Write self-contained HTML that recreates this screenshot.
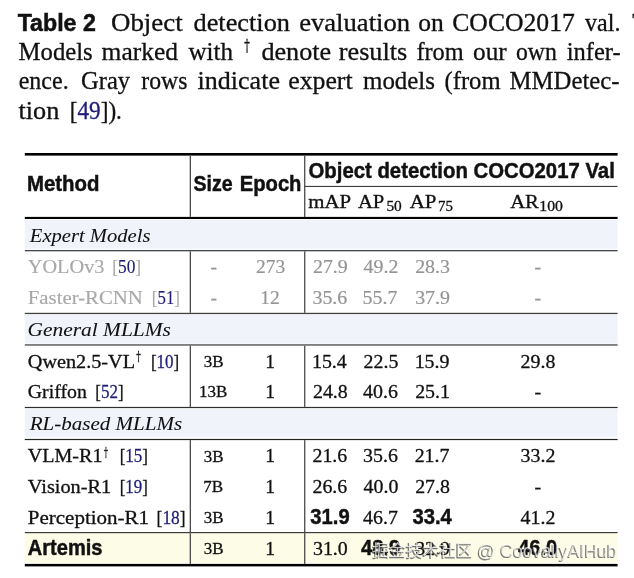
<!DOCTYPE html>
<html><head><meta charset="utf-8"><style>
html,body{margin:0;padding:0;background:#fff;width:634px;height:578px;overflow:hidden}
svg{display:block}
text{font-kerning:normal}
</style></head><body>
<svg width="634" height="578" viewBox="0 0 634 578">
<rect x="24.80" y="219.60" width="592.80" height="29.30" fill="#f1f3fb"/>
<rect x="24.80" y="314.90" width="592.80" height="28.60" fill="#f1f3fb"/>
<rect x="24.80" y="408.90" width="592.80" height="28.00" fill="#f1f3fb"/>
<rect x="24.80" y="533.20" width="592.80" height="29.70" fill="#fdfce6"/>
<rect x="24.80" y="153.00" width="592.80" height="2.60" fill="#000"/>
<rect x="24.80" y="216.90" width="592.80" height="2.10" fill="#000"/>
<rect x="24.80" y="250.00" width="592.80" height="1.30" fill="#40444c"/>
<rect x="24.80" y="312.80" width="592.80" height="1.30" fill="#404040"/>
<rect x="24.80" y="344.20" width="592.80" height="1.50" fill="#5c5f62"/>
<rect x="24.80" y="406.90" width="592.80" height="1.20" fill="#2e2e2e"/>
<rect x="24.80" y="438.90" width="592.80" height="1.20" fill="#222"/>
<rect x="24.80" y="532.00" width="592.80" height="1.20" fill="#3e3e38"/>
<rect x="24.80" y="563.90" width="592.80" height="2.50" fill="#000"/>
<rect x="304.70" y="185.90" width="312.90" height="1.10" fill="#3a3a3a"/>
<rect x="189.70" y="155.60" width="1.25" height="61.30" fill="#444"/>
<rect x="189.70" y="251.30" width="1.25" height="61.50" fill="#444"/>
<rect x="189.70" y="345.70" width="1.25" height="61.20" fill="#444"/>
<rect x="189.70" y="440.10" width="1.25" height="91.90" fill="#444"/>
<rect x="189.70" y="533.20" width="1.25" height="30.70" fill="#444"/>
<rect x="304.10" y="155.60" width="1.25" height="61.30" fill="#444"/>
<rect x="304.10" y="251.30" width="1.25" height="61.50" fill="#444"/>
<rect x="304.10" y="345.70" width="1.25" height="61.20" fill="#444"/>
<rect x="304.10" y="440.10" width="1.25" height="91.90" fill="#444"/>
<rect x="304.10" y="533.20" width="1.25" height="30.70" fill="#444"/>
<text x="17.70" y="30.70" textLength="78.10" lengthAdjust="spacingAndGlyphs" style='font-family:"Liberation Sans", sans-serif;font-size:23.0px;font-weight:bold;stroke:#111;stroke-width:0.5px' fill="#111">Table 2</text>
<text x="110.99" y="30.90" textLength="71.73" lengthAdjust="spacingAndGlyphs" style='font-family:"Liberation Serif", serif;font-size:24.3px;stroke:#111;stroke-width:0.3px' fill="#111">Object</text>
<text x="193.50" y="30.90" textLength="96.46" lengthAdjust="spacingAndGlyphs" style='font-family:"Liberation Serif", serif;font-size:24.3px;stroke:#111;stroke-width:0.3px' fill="#111">detection</text>
<text x="299.20" y="30.90" textLength="110.86" lengthAdjust="spacingAndGlyphs" style='font-family:"Liberation Serif", serif;font-size:24.3px;stroke:#111;stroke-width:0.3px' fill="#111">evaluation</text>
<text x="418.20" y="30.90" textLength="25.56" lengthAdjust="spacingAndGlyphs" style='font-family:"Liberation Serif", serif;font-size:24.3px;stroke:#111;stroke-width:0.3px' fill="#111">on</text>
<text x="452.24" y="30.90" textLength="122.61" lengthAdjust="spacingAndGlyphs" style='font-family:"Liberation Serif", serif;font-size:24.3px;stroke:#111;stroke-width:0.3px' fill="#111">COCO2017</text>
<text x="585.10" y="30.90" textLength="35.36" lengthAdjust="spacingAndGlyphs" style='font-family:"Liberation Serif", serif;font-size:24.3px;stroke:#111;stroke-width:0.3px' fill="#111">val.</text>
<text x="632.30" y="30.90" textLength="15.58" lengthAdjust="spacingAndGlyphs" style='font-family:"Liberation Serif", serif;font-size:24.3px;stroke:#111;stroke-width:0.3px' fill="#111">T</text>
<text x="18.60" y="59.90" textLength="74.16" lengthAdjust="spacingAndGlyphs" style='font-family:"Liberation Serif", serif;font-size:24.3px;stroke:#111;stroke-width:0.3px' fill="#111">Models</text>
<text x="101.60" y="59.90" textLength="76.36" lengthAdjust="spacingAndGlyphs" style='font-family:"Liberation Serif", serif;font-size:24.3px;stroke:#111;stroke-width:0.3px' fill="#111">marked</text>
<text x="188.40" y="59.90" textLength="44.55" lengthAdjust="spacingAndGlyphs" style='font-family:"Liberation Serif", serif;font-size:24.3px;stroke:#111;stroke-width:0.3px' fill="#111">with</text>
<text x="244.20" y="50.70" textLength="5.57" lengthAdjust="spacingAndGlyphs" style='font-family:"DejaVu Serif", serif;font-size:16.5px;stroke:#111;stroke-width:0.3px' fill="#111">†</text>
<text x="261.40" y="59.90" textLength="69.74" lengthAdjust="spacingAndGlyphs" style='font-family:"Liberation Serif", serif;font-size:24.3px;stroke:#111;stroke-width:0.3px' fill="#111">denote</text>
<text x="338.80" y="59.90" textLength="68.39" lengthAdjust="spacingAndGlyphs" style='font-family:"Liberation Serif", serif;font-size:24.3px;stroke:#111;stroke-width:0.3px' fill="#111">results</text>
<text x="416.40" y="59.90" style='font-family:"Liberation Serif", serif;font-size:24.3px;stroke:#111;stroke-width:0.3px' fill="#111">from</text>
<text x="473.00" y="59.90" textLength="33.69" lengthAdjust="spacingAndGlyphs" style='font-family:"Liberation Serif", serif;font-size:24.3px;stroke:#111;stroke-width:0.3px' fill="#111">our</text>
<text x="516.00" y="59.90" textLength="40.84" lengthAdjust="spacingAndGlyphs" style='font-family:"Liberation Serif", serif;font-size:24.3px;stroke:#111;stroke-width:0.3px' fill="#111">own</text>
<text x="566.70" y="59.90" textLength="53.99" lengthAdjust="spacingAndGlyphs" style='font-family:"Liberation Serif", serif;font-size:24.3px;stroke:#111;stroke-width:0.3px' fill="#111">infer-</text>
<text x="18.70" y="88.60" textLength="49.96" lengthAdjust="spacingAndGlyphs" style='font-family:"Liberation Serif", serif;font-size:24.3px;stroke:#111;stroke-width:0.3px' fill="#111">ence.</text>
<text x="81.09" y="88.60" textLength="49.05" lengthAdjust="spacingAndGlyphs" style='font-family:"Liberation Serif", serif;font-size:24.3px;stroke:#111;stroke-width:0.3px' fill="#111">Gray</text>
<text x="141.30" y="88.60" textLength="46.14" lengthAdjust="spacingAndGlyphs" style='font-family:"Liberation Serif", serif;font-size:24.3px;stroke:#111;stroke-width:0.3px' fill="#111">rows</text>
<text x="197.60" y="88.60" textLength="82.34" lengthAdjust="spacingAndGlyphs" style='font-family:"Liberation Serif", serif;font-size:24.3px;stroke:#111;stroke-width:0.3px' fill="#111">indicate</text>
<text x="288.20" y="88.60" textLength="64.44" lengthAdjust="spacingAndGlyphs" style='font-family:"Liberation Serif", serif;font-size:24.3px;stroke:#111;stroke-width:0.3px' fill="#111">expert</text>
<text x="363.00" y="88.60" textLength="71.97" lengthAdjust="spacingAndGlyphs" style='font-family:"Liberation Serif", serif;font-size:24.3px;stroke:#111;stroke-width:0.3px' fill="#111">models</text>
<text x="444.49" y="88.60" textLength="56.11" lengthAdjust="spacingAndGlyphs" style='font-family:"Liberation Serif", serif;font-size:24.3px;stroke:#111;stroke-width:0.3px' fill="#111">(from</text>
<text x="509.60" y="88.60" textLength="109.99" lengthAdjust="spacingAndGlyphs" style='font-family:"Liberation Serif", serif;font-size:24.3px;stroke:#111;stroke-width:0.3px' fill="#111">MMDetec-</text>
<text x="18.50" y="118.80" textLength="40.86" lengthAdjust="spacingAndGlyphs" style='font-family:"Liberation Serif", serif;font-size:24.3px;stroke:#111;stroke-width:0.3px' fill="#111">tion</text>
<text x="69.85" y="118.80" textLength="52.08" lengthAdjust="spacingAndGlyphs" style='font-family:"Liberation Serif", serif;font-size:24.3px;stroke:#111;stroke-width:0.3px' fill="#111">[<tspan fill="#1e1e78" stroke="#1e1e78">49</tspan>]).</text>
<text x="26.95" y="190.80" textLength="72.52" lengthAdjust="spacingAndGlyphs" style='font-family:"Liberation Sans", sans-serif;font-size:21.5px;font-weight:bold;stroke:#111;stroke-width:0.45px' fill="#111">Method</text>
<text x="193.40" y="190.70" textLength="39.16" lengthAdjust="spacingAndGlyphs" style='font-family:"Liberation Sans", sans-serif;font-size:21.5px;font-weight:bold;stroke:#111;stroke-width:0.45px' fill="#111">Size</text>
<text x="239.76" y="190.70" textLength="61.70" lengthAdjust="spacingAndGlyphs" style='font-family:"Liberation Sans", sans-serif;font-size:21.5px;font-weight:bold;stroke:#111;stroke-width:0.45px' fill="#111">Epoch</text>
<text x="308.50" y="178.00" textLength="306.32" lengthAdjust="spacingAndGlyphs" style='font-family:"Liberation Sans", sans-serif;font-size:21.5px;font-weight:bold;stroke:#111;stroke-width:0.45px' fill="#111">Object detection COCO2017 Val</text>
<text x="308.30" y="208.20" textLength="42.83" lengthAdjust="spacingAndGlyphs" style='font-family:"Liberation Serif", serif;font-size:19.5px;stroke:#111;stroke-width:0.3px' fill="#111">mAP</text>
<text x="358.00" y="208.20" textLength="26.34" lengthAdjust="spacingAndGlyphs" style='font-family:"Liberation Serif", serif;font-size:19.5px;stroke:#111;stroke-width:0.3px' fill="#111">AP</text>
<text x="386.40" y="211.20" textLength="15.37" lengthAdjust="spacingAndGlyphs" style='font-family:"Liberation Serif", serif;font-size:13.6px;stroke:#111;stroke-width:0.3px' fill="#111">50</text>
<text x="409.70" y="208.20" textLength="26.73" lengthAdjust="spacingAndGlyphs" style='font-family:"Liberation Serif", serif;font-size:19.5px;stroke:#111;stroke-width:0.3px' fill="#111">AP</text>
<text x="438.10" y="211.10" textLength="14.88" lengthAdjust="spacingAndGlyphs" style='font-family:"Liberation Serif", serif;font-size:13.6px;stroke:#111;stroke-width:0.3px' fill="#111">75</text>
<text x="510.20" y="208.20" textLength="28.71" lengthAdjust="spacingAndGlyphs" style='font-family:"Liberation Serif", serif;font-size:19.5px;stroke:#111;stroke-width:0.3px' fill="#111">AR</text>
<text x="539.34" y="211.20" textLength="23.62" lengthAdjust="spacingAndGlyphs" style='font-family:"Liberation Serif", serif;font-size:13.6px;stroke:#111;stroke-width:0.3px' fill="#111">100</text>
<text x="29.88" y="241.90" textLength="120.54" lengthAdjust="spacingAndGlyphs" style='font-family:"Liberation Serif", serif;font-size:19.0px;font-style:italic;stroke:#111;stroke-width:0.05px' fill="#111">Expert Models</text>
<text x="27.47" y="335.70" textLength="143.47" lengthAdjust="spacingAndGlyphs" style='font-family:"Liberation Serif", serif;font-size:19.0px;font-style:italic;stroke:#111;stroke-width:0.05px' fill="#111">General MLLMs</text>
<text x="29.71" y="429.70" textLength="152.53" lengthAdjust="spacingAndGlyphs" style='font-family:"Liberation Serif", serif;font-size:19.0px;font-style:italic;stroke:#111;stroke-width:0.05px' fill="#111">RL-based MLLMs</text>
<text x="27.80" y="273.00" textLength="76.68" lengthAdjust="spacingAndGlyphs" style='font-family:"Liberation Serif", serif;font-size:19.5px;stroke:#a8a8a8;stroke-width:0.15px' fill="#a8a8a8">YOLOv3</text>
<text x="210.50" y="273.00" style='font-family:"Liberation Serif", serif;font-size:19.5px;stroke:#959595;stroke-width:0.2px' fill="#959595">-</text>
<text x="255.95" y="273.00" style='font-family:"Liberation Serif", serif;font-size:19.5px;stroke:#959595;stroke-width:0.2px' fill="#959595">273</text>
<text x="312.98" y="273.00" textLength="34.81" lengthAdjust="spacingAndGlyphs" style='font-family:"Liberation Serif", serif;font-size:19.5px;stroke:#959595;stroke-width:0.2px' fill="#959595">27.9</text>
<text x="363.58" y="273.00" textLength="34.81" lengthAdjust="spacingAndGlyphs" style='font-family:"Liberation Serif", serif;font-size:19.5px;stroke:#959595;stroke-width:0.2px' fill="#959595">49.2</text>
<text x="415.18" y="273.00" textLength="34.81" lengthAdjust="spacingAndGlyphs" style='font-family:"Liberation Serif", serif;font-size:19.5px;stroke:#959595;stroke-width:0.2px' fill="#959595">28.3</text>
<text x="534.54" y="273.00" textLength="6.62" lengthAdjust="spacingAndGlyphs" style='font-family:"Liberation Serif", serif;font-size:19.5px;stroke:#959595;stroke-width:0.2px' fill="#959595">-</text>
<text x="27.80" y="304.00" textLength="115.09" lengthAdjust="spacingAndGlyphs" style='font-family:"Liberation Serif", serif;font-size:19.5px;stroke:#a8a8a8;stroke-width:0.15px' fill="#a8a8a8">Faster-RCNN</text>
<text x="210.50" y="304.00" style='font-family:"Liberation Serif", serif;font-size:19.5px;stroke:#959595;stroke-width:0.2px' fill="#959595">-</text>
<text x="260.32" y="304.00" style='font-family:"Liberation Serif", serif;font-size:19.5px;stroke:#959595;stroke-width:0.2px' fill="#959595">12</text>
<text x="312.47" y="304.00" textLength="34.81" lengthAdjust="spacingAndGlyphs" style='font-family:"Liberation Serif", serif;font-size:19.5px;stroke:#959595;stroke-width:0.2px' fill="#959595">35.6</text>
<text x="362.56" y="304.00" textLength="34.81" lengthAdjust="spacingAndGlyphs" style='font-family:"Liberation Serif", serif;font-size:19.5px;stroke:#959595;stroke-width:0.2px' fill="#959595">55.7</text>
<text x="415.18" y="304.00" textLength="34.81" lengthAdjust="spacingAndGlyphs" style='font-family:"Liberation Serif", serif;font-size:19.5px;stroke:#959595;stroke-width:0.2px' fill="#959595">37.9</text>
<text x="534.54" y="304.00" textLength="6.62" lengthAdjust="spacingAndGlyphs" style='font-family:"Liberation Serif", serif;font-size:19.5px;stroke:#959595;stroke-width:0.2px' fill="#959595">-</text>
<text x="27.80" y="367.90" textLength="107.24" lengthAdjust="spacingAndGlyphs" style='font-family:"Liberation Serif", serif;font-size:19.5px;stroke:#111;stroke-width:0.3px' fill="#111">Qwen2.5-VL</text>
<text x="203.75" y="367.30" style='font-family:"Liberation Serif", serif;font-size:17.0px;stroke:#111;stroke-width:0.3px' fill="#111">3B</text>
<text x="265.20" y="367.90" style='font-family:"Liberation Serif", serif;font-size:19.5px;stroke:#111;stroke-width:0.3px' fill="#111">1</text>
<text x="311.96" y="367.90" textLength="34.81" lengthAdjust="spacingAndGlyphs" style='font-family:"Liberation Serif", serif;font-size:19.5px;stroke:#111;stroke-width:0.3px' fill="#111">15.4</text>
<text x="363.58" y="367.90" textLength="34.81" lengthAdjust="spacingAndGlyphs" style='font-family:"Liberation Serif", serif;font-size:19.5px;stroke:#111;stroke-width:0.3px' fill="#111">22.5</text>
<text x="414.67" y="367.90" textLength="34.81" lengthAdjust="spacingAndGlyphs" style='font-family:"Liberation Serif", serif;font-size:19.5px;stroke:#111;stroke-width:0.3px' fill="#111">15.9</text>
<text x="520.58" y="367.90" textLength="34.81" lengthAdjust="spacingAndGlyphs" style='font-family:"Liberation Serif", serif;font-size:19.5px;stroke:#111;stroke-width:0.3px' fill="#111">29.8</text>
<text x="27.80" y="397.80" textLength="59.05" lengthAdjust="spacingAndGlyphs" style='font-family:"Liberation Serif", serif;font-size:19.5px;stroke:#111;stroke-width:0.3px' fill="#111">Griffon</text>
<text x="199.00" y="397.20" style='font-family:"Liberation Serif", serif;font-size:17.0px;stroke:#111;stroke-width:0.3px' fill="#111">13B</text>
<text x="265.20" y="397.80" style='font-family:"Liberation Serif", serif;font-size:19.5px;stroke:#111;stroke-width:0.3px' fill="#111">1</text>
<text x="312.98" y="397.80" textLength="34.81" lengthAdjust="spacingAndGlyphs" style='font-family:"Liberation Serif", serif;font-size:19.5px;stroke:#111;stroke-width:0.3px' fill="#111">24.8</text>
<text x="363.07" y="397.80" textLength="34.81" lengthAdjust="spacingAndGlyphs" style='font-family:"Liberation Serif", serif;font-size:19.5px;stroke:#111;stroke-width:0.3px' fill="#111">40.6</text>
<text x="415.18" y="397.80" textLength="34.81" lengthAdjust="spacingAndGlyphs" style='font-family:"Liberation Serif", serif;font-size:19.5px;stroke:#111;stroke-width:0.3px' fill="#111">25.1</text>
<text x="534.54" y="397.80" textLength="6.62" lengthAdjust="spacingAndGlyphs" style='font-family:"Liberation Serif", serif;font-size:19.5px;stroke:#111;stroke-width:0.3px' fill="#111">-</text>
<text x="27.80" y="462.30" textLength="74.67" lengthAdjust="spacingAndGlyphs" style='font-family:"Liberation Serif", serif;font-size:19.5px;stroke:#111;stroke-width:0.3px' fill="#111">VLM-R1</text>
<text x="203.75" y="461.70" style='font-family:"Liberation Serif", serif;font-size:17.0px;stroke:#111;stroke-width:0.3px' fill="#111">3B</text>
<text x="265.20" y="462.30" style='font-family:"Liberation Serif", serif;font-size:19.5px;stroke:#111;stroke-width:0.3px' fill="#111">1</text>
<text x="312.47" y="462.30" textLength="34.81" lengthAdjust="spacingAndGlyphs" style='font-family:"Liberation Serif", serif;font-size:19.5px;stroke:#111;stroke-width:0.3px' fill="#111">21.6</text>
<text x="363.07" y="462.30" textLength="34.81" lengthAdjust="spacingAndGlyphs" style='font-family:"Liberation Serif", serif;font-size:19.5px;stroke:#111;stroke-width:0.3px' fill="#111">35.6</text>
<text x="414.67" y="462.30" textLength="34.81" lengthAdjust="spacingAndGlyphs" style='font-family:"Liberation Serif", serif;font-size:19.5px;stroke:#111;stroke-width:0.3px' fill="#111">21.7</text>
<text x="520.58" y="462.30" textLength="34.81" lengthAdjust="spacingAndGlyphs" style='font-family:"Liberation Serif", serif;font-size:19.5px;stroke:#111;stroke-width:0.3px' fill="#111">33.2</text>
<text x="27.80" y="492.90" textLength="83.38" lengthAdjust="spacingAndGlyphs" style='font-family:"Liberation Serif", serif;font-size:19.5px;stroke:#111;stroke-width:0.3px' fill="#111">Vision-R1</text>
<text x="203.25" y="492.30" style='font-family:"Liberation Serif", serif;font-size:17.0px;stroke:#111;stroke-width:0.3px' fill="#111">7B</text>
<text x="265.20" y="492.90" style='font-family:"Liberation Serif", serif;font-size:19.5px;stroke:#111;stroke-width:0.3px' fill="#111">1</text>
<text x="312.47" y="492.90" textLength="34.81" lengthAdjust="spacingAndGlyphs" style='font-family:"Liberation Serif", serif;font-size:19.5px;stroke:#111;stroke-width:0.3px' fill="#111">26.6</text>
<text x="363.58" y="492.90" textLength="34.81" lengthAdjust="spacingAndGlyphs" style='font-family:"Liberation Serif", serif;font-size:19.5px;stroke:#111;stroke-width:0.3px' fill="#111">40.0</text>
<text x="415.18" y="492.90" textLength="34.81" lengthAdjust="spacingAndGlyphs" style='font-family:"Liberation Serif", serif;font-size:19.5px;stroke:#111;stroke-width:0.3px' fill="#111">27.8</text>
<text x="534.54" y="492.90" textLength="6.62" lengthAdjust="spacingAndGlyphs" style='font-family:"Liberation Serif", serif;font-size:19.5px;stroke:#111;stroke-width:0.3px' fill="#111">-</text>
<text x="27.80" y="524.00" textLength="121.21" lengthAdjust="spacingAndGlyphs" style='font-family:"Liberation Serif", serif;font-size:19.5px;stroke:#111;stroke-width:0.3px' fill="#111">Perception-R1</text>
<text x="203.75" y="523.40" style='font-family:"Liberation Serif", serif;font-size:17.0px;stroke:#111;stroke-width:0.3px' fill="#111">3B</text>
<text x="265.20" y="524.00" style='font-family:"Liberation Serif", serif;font-size:19.5px;stroke:#111;stroke-width:0.3px' fill="#111">1</text>
<text x="310.31" y="524.00" textLength="39.33" lengthAdjust="spacingAndGlyphs" style='font-family:"Liberation Sans", sans-serif;font-size:21.5px;font-weight:bold;stroke:#111;stroke-width:0.45px' fill="#111">31.9</text>
<text x="363.07" y="524.00" textLength="34.81" lengthAdjust="spacingAndGlyphs" style='font-family:"Liberation Serif", serif;font-size:19.5px;stroke:#111;stroke-width:0.3px' fill="#111">46.7</text>
<text x="412.51" y="524.00" textLength="39.33" lengthAdjust="spacingAndGlyphs" style='font-family:"Liberation Sans", sans-serif;font-size:21.5px;font-weight:bold;stroke:#111;stroke-width:0.45px' fill="#111">33.4</text>
<text x="520.58" y="524.00" textLength="34.81" lengthAdjust="spacingAndGlyphs" style='font-family:"Liberation Serif", serif;font-size:19.5px;stroke:#111;stroke-width:0.3px' fill="#111">41.2</text>
<text x="27.80" y="555.00" textLength="74.66" lengthAdjust="spacingAndGlyphs" style='font-family:"Liberation Sans", sans-serif;font-size:21.5px;font-weight:bold;stroke:#111;stroke-width:0.45px' fill="#111">Artemis</text>
<text x="203.75" y="554.40" style='font-family:"Liberation Serif", serif;font-size:17.0px;stroke:#111;stroke-width:0.3px' fill="#111">3B</text>
<text x="265.20" y="555.00" style='font-family:"Liberation Serif", serif;font-size:19.5px;stroke:#111;stroke-width:0.3px' fill="#111">1</text>
<text x="312.98" y="555.00" textLength="34.81" lengthAdjust="spacingAndGlyphs" style='font-family:"Liberation Serif", serif;font-size:19.5px;stroke:#111;stroke-width:0.3px' fill="#111">31.0</text>
<text x="360.91" y="555.00" textLength="39.33" lengthAdjust="spacingAndGlyphs" style='font-family:"Liberation Sans", sans-serif;font-size:21.5px;font-weight:bold;stroke:#111;stroke-width:0.45px' fill="#111">48.9</text>
<text x="415.18" y="555.00" textLength="34.81" lengthAdjust="spacingAndGlyphs" style='font-family:"Liberation Serif", serif;font-size:19.5px;stroke:#111;stroke-width:0.3px' fill="#111">32.9</text>
<text x="517.91" y="555.00" textLength="39.33" lengthAdjust="spacingAndGlyphs" style='font-family:"Liberation Sans", sans-serif;font-size:21.5px;font-weight:bold;stroke:#111;stroke-width:0.45px' fill="#111">46.0</text>
<text x="112.21" y="273.00" textLength="28.93" lengthAdjust="spacingAndGlyphs" style='font-family:"Liberation Serif", serif;font-size:19.5px;stroke:#a8a8a8;stroke-width:0.15px' fill="#a8a8a8">[<tspan fill="#1e1e78" stroke="#1e1e78">50</tspan>]</text>
<text x="151.84" y="304.00" textLength="28.09" lengthAdjust="spacingAndGlyphs" style='font-family:"Liberation Serif", serif;font-size:19.5px;stroke:#a8a8a8;stroke-width:0.15px' fill="#a8a8a8">[<tspan fill="#1e1e78" stroke="#1e1e78">51</tspan>]</text>
<text x="95.33" y="397.80" textLength="28.30" lengthAdjust="spacingAndGlyphs" style='font-family:"Liberation Serif", serif;font-size:19.5px;stroke:#111;stroke-width:0.3px' fill="#111">[<tspan fill="#1e1e78" stroke="#1e1e78">52</tspan>]</text>
<text x="119.74" y="492.90" textLength="28.09" lengthAdjust="spacingAndGlyphs" style='font-family:"Liberation Serif", serif;font-size:19.5px;stroke:#111;stroke-width:0.3px' fill="#111">[<tspan fill="#1e1e78" stroke="#1e1e78">19</tspan>]</text>
<text x="156.61" y="524.00" textLength="28.93" lengthAdjust="spacingAndGlyphs" style='font-family:"Liberation Serif", serif;font-size:19.5px;stroke:#111;stroke-width:0.3px' fill="#111">[<tspan fill="#1e1e78" stroke="#1e1e78">18</tspan>]</text>
<text x="136.30" y="361.30" textLength="4.53" lengthAdjust="spacingAndGlyphs" style='font-family:"DejaVu Serif", serif;font-size:13.5px;stroke:#111;stroke-width:0.3px' fill="#111">†</text>
<text x="150.93" y="367.90" textLength="28.30" lengthAdjust="spacingAndGlyphs" style='font-family:"Liberation Serif", serif;font-size:19.5px;stroke:#111;stroke-width:0.3px' fill="#111">[<tspan fill="#1e1e78" stroke="#1e1e78">10</tspan>]</text>
<text x="103.90" y="456.80" textLength="3.86" lengthAdjust="spacingAndGlyphs" style='font-family:"DejaVu Serif", serif;font-size:13.5px;stroke:#111;stroke-width:0.3px' fill="#111">†</text>
<text x="119.63" y="462.30" textLength="28.41" lengthAdjust="spacingAndGlyphs" style='font-family:"Liberation Serif", serif;font-size:19.5px;stroke:#111;stroke-width:0.3px' fill="#111">[<tspan fill="#1e1e78" stroke="#1e1e78">15</tspan>]</text>
<text x="371.70" y="557.00" textLength="100.14" lengthAdjust="spacingAndGlyphs" style='font-family:"Liberation Sans", "Noto Sans CJK SC", sans-serif;font-size:15.6px;stroke:#3a3a3a;stroke-width:0.4px;opacity:0.7' fill="#3a3a3a">掘金技术社区</text>
<text x="476.62" y="558.10" textLength="139.59" lengthAdjust="spacingAndGlyphs" style='font-family:"Liberation Sans", sans-serif;font-size:18.0px;stroke:#3a3a3a;stroke-width:0.24px;opacity:0.7' fill="#3a3a3a">@ CoovallyAIHub</text>
<text x="372.60" y="556.20" textLength="100.14" lengthAdjust="spacingAndGlyphs" style='font-family:"Liberation Sans", "Noto Sans CJK SC", sans-serif;font-size:15.6px;opacity:0.72' fill="#ffffff">掘金技术社区</text>
<text x="477.52" y="557.30" textLength="139.59" lengthAdjust="spacingAndGlyphs" style='font-family:"Liberation Sans", sans-serif;font-size:18.0px;opacity:0.72' fill="#ffffff">@ CoovallyAIHub</text>
</svg>
</body></html>
